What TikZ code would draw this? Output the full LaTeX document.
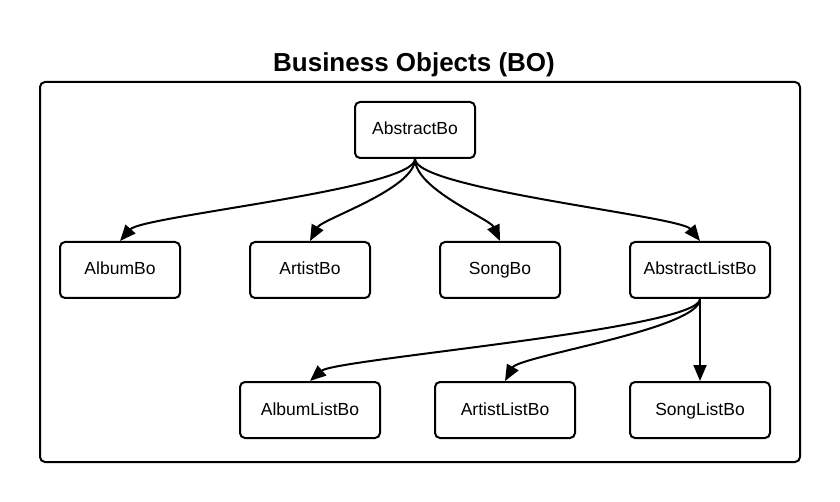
\documentclass[tikz,border=0pt]{standalone}
\usepackage{fontspec}
\setmainfont{Liberation Sans}
\usetikzlibrary{arrows.meta}
\begin{document}
\begin{tikzpicture}[x=1pt,y=-1pt,
  bo/.style={draw=black,line width=2pt,rounded corners=5pt,fill=white,
    minimum height=56pt,inner sep=0pt,text height=13pt,text depth=3pt,
    font=\fontsize{17.5}{20}\selectfont},
  narrow/.style={bo,minimum width=120pt},
  wide/.style={bo,minimum width=140pt},
  link/.style={line width=2pt,-{Triangle[length=16pt,width=13pt]}}]
\useasboundingbox (0,0) rectangle (840,502);
\node[font=\bfseries\fontsize{26}{30}\selectfont,anchor=base] (title) at (414,72) {Business Objects (BO)};
\draw[line width=2pt,rounded corners=5pt] (40,82) rectangle (800,462);
\node[narrow] (ab) at (415,130) {AbstractBo};
\node[narrow] (album) at (120,270) {AlbumBo};
\node[narrow] (artist) at (310,270) {ArtistBo};
\node[narrow] (song) at (500,270) {SongBo};
\node[wide] (alist) at (700,270) {AbstractListBo};
\node[wide] (albuml) at (310,410) {AlbumListBo};
\node[wide] (artistl) at (505,410) {ArtistListBo};
\node[wide] (songl) at (700,410) {SongListBo};
\draw[link] (ab.south) .. controls +(0,30) and +(22,-25) .. (album.north);
\draw[link] (ab.south) .. controls +(0,30) and +(12,-22) .. (artist.north);
\draw[link] (ab.south) .. controls +(0,30) and +(-10,-22) .. (song.north);
\draw[link] (ab.south) .. controls +(0,30) and +(-20,-25) .. (alist.north);
\draw[link] (alist.south) .. controls +(0,30) and +(25,-22) .. (albuml.north);
\draw[link] (alist.south) .. controls +(0,30) and +(14,-25) .. (artistl.north);
\draw[link] (alist.south) -- (songl.north);
\end{tikzpicture}
\end{document}
